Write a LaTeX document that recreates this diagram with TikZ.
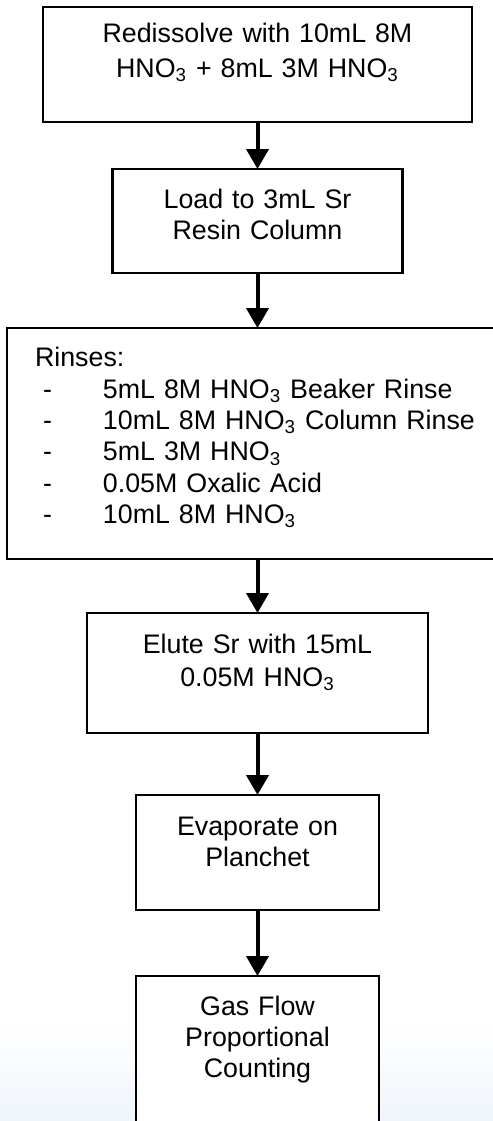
\documentclass[tikz,border=0pt]{standalone}
\usepackage{fontspec}
\setmainfont{Liberation Sans}
\usetikzlibrary{positioning,arrows.meta}

\definecolor{paleblue}{RGB}{239,245,251}
\newcommand{\rinseitem}[1]{\hspace*{4pt}\makebox[30pt][l]{-}#1}

\begin{document}
\begin{tikzpicture}[
    node distance=25pt,
    stepbox/.style={draw, line width=1.3pt, fill=white, inner sep=0pt, outer sep=0pt, align=center,
      font=\fontsize{13.4pt}{15.7pt}\selectfont},
    flow/.style={-{Triangle[width=11pt,length=10pt]}, line width=2pt}
]
\useasboundingbox (0,0) rectangle (246.5pt,-560.5pt);
% faint tint at the foot of the page
\shade[top color=white, bottom color=paleblue] (0,-512pt) rectangle (246.5pt,-560.5pt);

\node[stepbox, text width=214.5pt, text height=17.5pt, text depth=40pt, anchor=north] (redissolve) at (128.75pt,-3.5pt)
    {Redissolve with 10mL 8M\\[1.8pt]
     HNO\textsubscript{3} + 8mL 3M HNO\textsubscript{3}};
\node[stepbox, text width=145pt, text height=19.5pt, text depth=32.5pt, below=23.5pt of redissolve] (load)
    {Load to 3mL Sr\\Resin Column};
\node[stepbox, text width=222.5pt, inner xsep=14pt, align=left, text height=19pt, text depth=96.5pt, below=27.5pt of load] (rinses)
    {Rinses:\\[0.3pt]
     \rinseitem{5mL 8M HNO\textsubscript{3} Beaker Rinse}\\
     \rinseitem{10mL 8M HNO\textsubscript{3} Column Rinse}\\
     \rinseitem{5mL 3M HNO\textsubscript{3}}\\
     \rinseitem{0.05M Oxalic Acid}\\
     \rinseitem{10mL 8M HNO\textsubscript{3}}};
\node[stepbox, text width=170.5pt, text height=20pt, text depth=40pt, below=27pt of rinses] (elute)
    {Elute Sr with 15mL\\[0.8pt] 0.05M HNO\textsubscript{3}};
\node[stepbox, text width=121.5pt, text height=20pt, text depth=37.5pt, below=31pt of elute] (evaporate)
    {Evaporate on\\Planchet};
\node[stepbox, text width=121.5pt, text height=19.5pt, text depth=67.5pt, below=33pt of evaporate] (counting)
    {Gas Flow\\Proportional\\Counting};

\draw[flow] (redissolve) -- (load);
\draw[flow] (load) -- (rinses);
\draw[flow] (rinses) -- (elute);
\draw[flow] (elute) -- (evaporate);
\draw[flow] (evaporate) -- (counting);
\end{tikzpicture}
\end{document}
